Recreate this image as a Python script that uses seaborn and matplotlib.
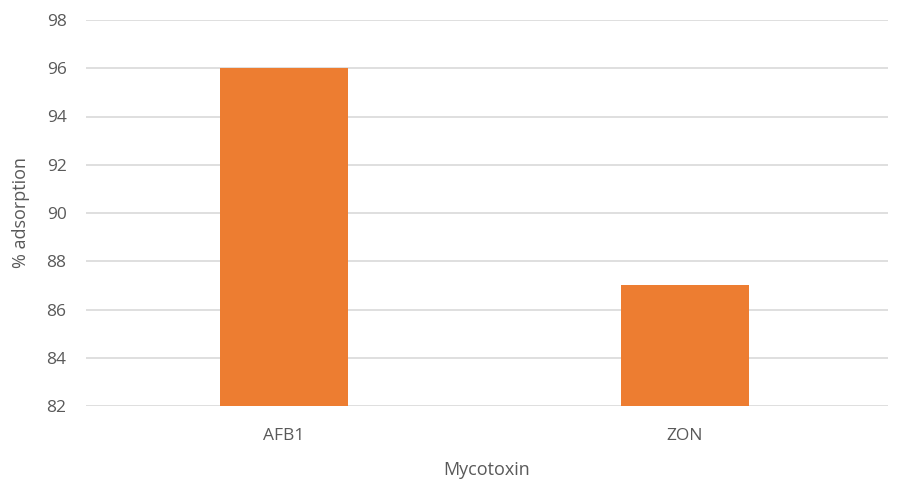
import matplotlib
matplotlib.use("Agg")
import matplotlib.pyplot as plt
import seaborn as sns
import pandas as pd

categories = ["AFB1", "ZON"]
values = [96, 87]
yticks = [82, 84, 86, 88, 90, 92, 94, 96, 98]

sns.set_theme(style="white")
plt.rcParams['font.family'] = ['Open Sans', 'DejaVu Sans']

df = pd.DataFrame({"Mycotoxin": categories, "adsorption": values})

W, H = 901, 484
fig = plt.figure(figsize=(W / 100, H / 100), dpi=100)
ax = fig.add_axes([86 / W, (H - 406) / H, 802 / W, 386 / H])

sns.barplot(data=df, x="Mycotoxin", y="adsorption", color="#ED7D31",
            width=0.32, saturation=1, ax=ax, zorder=3)
# bars start from 82 (bottom of axis)
for p in ax.patches:
    p.set_y(82)
    p.set_height(p.get_height() - 82)
    p.set_linewidth(0)

ax.set_ylim(82, 98)
ax.set_xlim(-0.494, 1.506)
ax.set_yticks(yticks)
ax.set_yticklabels([str(t) for t in yticks])
ax.yaxis.grid(True, color="#D9D9D9", linewidth=1.2, zorder=0)
ax.set_axisbelow(True)
for s in ax.spines.values():
    s.set_visible(False)
ax.tick_params(axis="both", length=0, labelsize=12.5, colors="#595959")
ax.tick_params(axis="y", pad=14)
ax.tick_params(axis="x", pad=16)
ax.set_xlabel("Mycotoxin", fontsize=13, color="#595959", labelpad=12)
ax.set_ylabel("% adsorption", fontsize=13, color="#595959", labelpad=12)

fig.savefig("out.png", dpi=100, facecolor="white")
